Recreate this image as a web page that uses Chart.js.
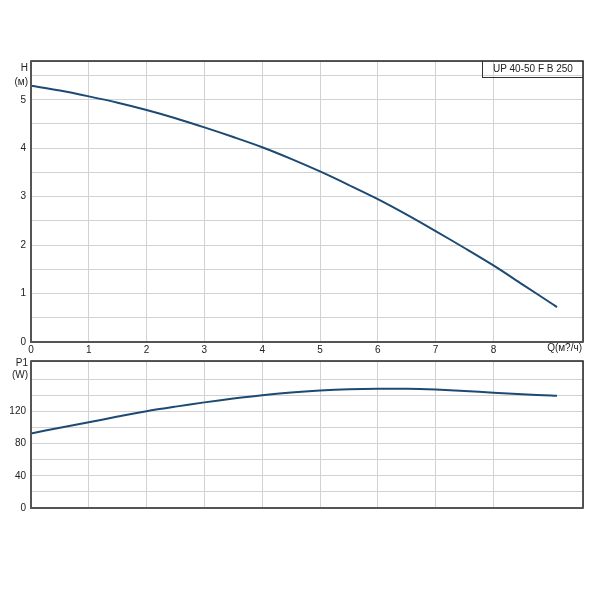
<!DOCTYPE html>
<html>
<head>
<meta charset="utf-8">
<script src="https://cdn.jsdelivr.net/npm/chart.js@4"></script>
<style>
  body { margin: 0; background: #fff; font-family: "Liberation Sans", Arial, sans-serif; }
  #wrap { position: relative; width: 600px; height: 600px; }
  canvas { position: absolute; left: 0; }
  #grafico_h { top: 0; }
  #grafico_p { top: 350px; }
  .lbl { position: absolute; left: 0; width: 28px; text-align: right; font-size: 10px; line-height: 12px; color: #222; }
  #qlbl { position: absolute; left: 480px; width: 102px; top: 342px; text-align: right; font-size: 10px; line-height: 12px; color: #222; }
  #modelo { position: absolute; left: 482px; top: 61px; width: 100px; height: 16px; border-left: 1px solid #333; border-bottom: 1px solid #333;
            font-size: 10px; line-height: 16px; text-align: center; color: #222; }
</style>
</head>
<body>
<div id="wrap">
  <canvas id="grafico_h" width="600" height="355"></canvas>
  <canvas id="grafico_p" width="600" height="170"></canvas>
  <div class="lbl" style="top:62px">H</div>
  <div class="lbl" style="top:76px">(м)</div>
  <div class="lbl" style="top:357px">P1</div>
  <div class="lbl" style="top:369px">(W)</div>
  <div id="qlbl">Q(м?/ч)</div>
  <div id="modelo">UP 40-50 F B 250</div>
</div>
<script>
// datos
const caudal = [0, 0.5, 1, 1.5, 2, 2.5, 3, 3.5, 4, 4.5, 5, 5.5, 6, 6.5, 7, 7.5, 8, 8.5, 9, 9.1];
const altura = [5.29, 5.19, 5.07, 4.94, 4.79, 4.62, 4.43, 4.23, 4.02, 3.78, 3.52, 3.24, 2.95, 2.63, 2.29, 1.94, 1.58, 1.19, 0.8, 0.72];
const potencia = [92.8, 100, 106.8, 113.8, 120.5, 126.2, 131.5, 136.3, 140.5, 143.8, 146.2, 147.8, 148.5, 148.5, 147.5, 145.8, 143.6, 141.6, 140, 139.7];
const q_ticks = [0, 1, 2, 3, 4, 5, 6, 7, 8];
const h_ticks = [0, 1, 2, 3, 4, 5];
const p_ticks = [0, 40, 80, 120];

const LINE_COLOR = "#1d4a72";
const GRID_COLOR = "#d2d2d2";
const FONT = { family: "'Liberation Sans', Arial, sans-serif", size: 10 };

// marco alrededor del area del grafico
const marco = {
  id: "marco",
  afterDraw: (chart) => {
    const { ctx, chartArea: a } = chart;
    ctx.save();
    ctx.strokeStyle = "#222";
    ctx.lineWidth = 1.5;
    ctx.strokeRect(a.left, a.top, a.right - a.left, a.bottom - a.top);
    ctx.strokeStyle = "#555";
    ctx.lineWidth = 2;
    ctx.beginPath();
    ctx.moveTo(a.left, a.top);
    ctx.lineTo(a.left, a.bottom);
    ctx.lineTo(a.right, a.bottom);
    ctx.stroke();
    ctx.restore();
  },
};

const puntos = (ys) => caudal.map((q, i) => ({ x: q, y: ys[i] }));

const makeChart = (canvas, ys, yMax, yStep, yLabels, showX, padTop, xHeight) => {
  const config = {
    type: "line",
    data: {
      datasets: [
        {
          data: puntos(ys),
          borderColor: LINE_COLOR,
          borderWidth: 2,
          pointRadius: 0,
          tension: 0.3,
          fill: false,
        },
      ],
    },
    options: {
      responsive: false,
      animation: false,
      layout: { padding: { top: padTop, right: 17, left: 0, bottom: 0 } },
      plugins: { legend: { display: false }, tooltip: { enabled: false } },
      scales: {
        x: {
          type: "linear",
          min: 0,
          max: 9.55,
          border: { display: false },
          grid: { color: GRID_COLOR, drawTicks: false },
          ticks: {
            display: showX,
            stepSize: 1,
            autoSkip: false,
            maxRotation: 0,
            padding: 2,
            color: "#222",
            font: FONT,
            callback: (v) => (q_ticks.includes(v) ? v : ""),
          },
          afterFit: (scale) => {
            scale.height = xHeight;
          },
        },
        y: {
          min: 0,
          max: yMax,
          border: { display: false },
          grid: { color: GRID_COLOR, drawTicks: false },
          ticks: {
            stepSize: yStep,
            autoSkip: false,
            padding: 5,
            color: "#222",
            font: FONT,
            callback: (v) => (yLabels.includes(v) ? v : ""),
          },
          afterFit: (scale) => {
            scale.width = 31;
          },
        },
      },
    },
    plugins: [marco],
  };
  return new Chart(canvas, config);
};

makeChart(document.getElementById("grafico_h"), altura, 5.8, 0.5, h_ticks, true, 61, 13);
makeChart(document.getElementById("grafico_p"), potencia, 183, 20, p_ticks, false, 6, 12);
</script>
</body>
</html>
